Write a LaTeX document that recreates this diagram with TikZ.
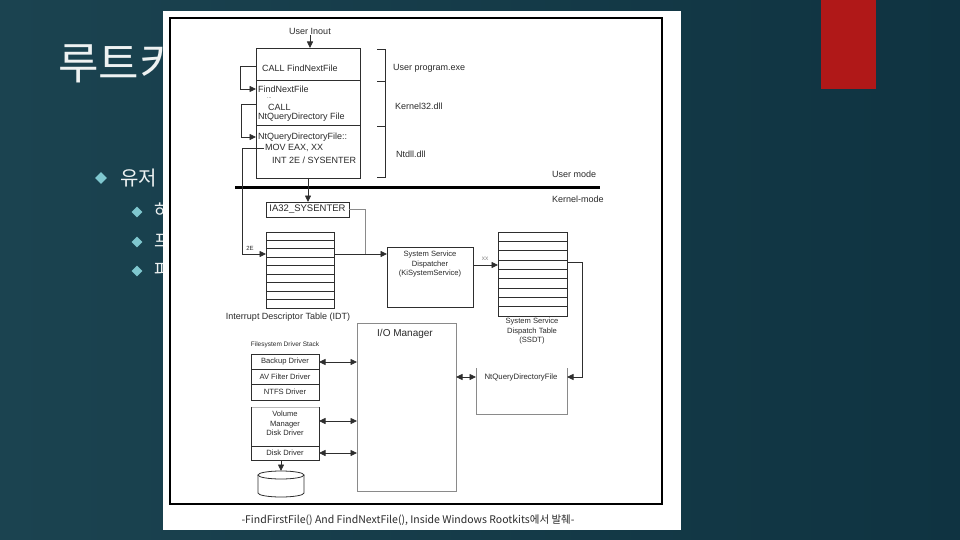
\documentclass[tikz,border=0pt]{standalone}
\usepackage{fontspec}
\setmainfont{Liberation Sans}
\newfontfamily\kr{Noto Sans CJK KR}
\usetikzlibrary{arrows.meta,shapes.geometric}
\definecolor{bgA}{HTML}{1B4350}
\definecolor{bgB}{HTML}{26595F}
\definecolor{bgC}{HTML}{0F3341}
\definecolor{tabred}{HTML}{B01818}
\definecolor{bul}{HTML}{7FC7CF}
\definecolor{ln}{HTML}{2E2E2E}
\definecolor{lgray}{HTML}{8A8A8A}
\definecolor{txt}{HTML}{2A2A2A}
\tikzset{
  box/.style={draw=ln, line width=.8pt, inner sep=0pt, outer sep=0pt, anchor=north west},
  gbox/.style={draw=lgray, line width=.8pt, inner sep=0pt, outer sep=0pt, anchor=north west},
  lbl/.style={text=txt, inner sep=1pt, font=\fontsize{9}{10}\selectfont},
  sml/.style={text=txt, inner sep=0pt, align=center, font=\fontsize{7.6}{9.4}\selectfont},
  arr/.style={draw=ln, line width=.8pt, -{Triangle[length=6.5pt,width=6pt]}},
  darr/.style={draw=ln, line width=.8pt, {Triangle[length=6.5pt,width=6pt]}-{Triangle[length=6.5pt,width=6pt]}},
  bulA/.style={diamond, fill=bul, inner sep=0pt, minimum size=12pt},
  bulB/.style={diamond, fill=bul, inner sep=0pt, minimum size=11pt},
  slide/.style={text=white!92!bgB, anchor=west, inner sep=0pt}
}
\begin{document}
\begin{tikzpicture}[x=1pt,y=-1pt]
\useasboundingbox (0,0) rectangle (960,540);
% slide background
\shade[left color=bgA, middle color=bgB, right color=bgC] (0,0) rectangle (960,540);
\fill[tabred] (821,0) rectangle (876,89);
% title and bullets (covered by the picture)
\node[slide, anchor=base west, font=\kr\fontsize{44}{44}\selectfont] (title) at (58,80) {루트키트};
\node[bulA] (b1) at (101,178) {};
\node[slide, font=\kr\fontsize{20}{20}\selectfont] (b1t) at (120,178) {유저};
\node[bulB] (b2) at (137,212) {};
\node[slide, font=\kr\fontsize{18}{18}\selectfont] (b2t) at (154,211) {하};
\node[bulB] (b3) at (137,242) {};
\node[slide, font=\kr\fontsize{18}{18}\selectfont] (b3t) at (154,241) {프};
\node[bulB] (b4) at (137,271) {};
\node[slide, font=\kr\fontsize{18}{18}\selectfont] (b4t) at (154,270) {파};
% picture panel
\fill[white] (163,11) rectangle (681,530);
\draw[black, line width=1.2pt] (170,18) rectangle (662,504);

% ---- user mode stack
\node[lbl] (uin) at (310,31) {User Inout};
\node[box, minimum width=104pt, minimum height=130pt] (main) at (256,48) {};
\draw[ln, line width=.8pt] (256,80) -- (360,80);
\draw[ln, line width=.8pt] (256,125) -- (360,125);
\draw[arr] (uin.south) -- (uin.south |- main.north);
\node[lbl, anchor=west] (t1) at (261,68) {CALL FindNextFile};
\node[lbl, anchor=west] (t2) at (257,89) {FindNextFile};
\node[lbl, anchor=west, font=\fontsize{5}{5}\selectfont] (t3) at (266,98) {...};
\node[lbl, anchor=west] (t4) at (267,107) {CALL};
\node[lbl, anchor=west] (t5) at (257,117) {NtQueryDirectory File};
\node[lbl, anchor=west] (t6) at (257,137) {NtQueryDirectoryFile::};
\node[lbl, anchor=west] (t7) at (264,148) {MOV EAX, XX};
\node[lbl, anchor=west] (t8) at (271,160) {INT 2E / SYSENTER};
\coordinate (l1) at (240,66);
\coordinate (l2) at (241,104);
\draw[arr] (l1 -| main.west) -- (l1) |- (t2.west -| main.west);
\draw[arr] (l2 -| main.west) -- (l2) |- (t6.west -| main.west);
% brackets
\draw[ln, line width=.8pt] (377,49) -- (385,49) -- (385,177) -- (377,177);
\draw[ln, line width=.8pt] (377,81) -- (385,81);
\draw[ln, line width=.8pt] (377,126) -- (385,126);
\node[lbl, anchor=west] (up) at (392,68) {User program.exe};
\node[lbl, anchor=west] (k32) at (394,106) {Kernel32.dll};
\node[lbl, anchor=west] (ntd) at (395,154) {Ntdll.dll};
\node[lbl, anchor=west] (um) at (551,174) {User mode};
\node[lbl, anchor=west] (km) at (551,199) {Kernel-mode};
\draw[black, line width=3pt] (235,187) -- (600,187);

% ---- kernel side
\node[box, minimum width=83pt, minimum height=15pt] (ia32) at (266,202) {};
\node[lbl, font=\fontsize{9.5}{10}\selectfont] at (ia32.center) {IA32\_SYSENTER};
\draw[arr] (main.south) -- (main.south |- ia32.north);

\node[box, minimum width=68pt, minimum height=76pt] (idt) at (266,232) {};
\foreach \k in {1,...,8} \draw[ln, line width=.8pt] (idt.north west) ++(0,\k*8.44) -- ++(68,0);
\node[lbl] (idtl) at (288,317) {Interrupt Descriptor Table (IDT)};

\coordinate (c2e) at (242,254);
\draw[arr] (t7.west) -| (c2e) -- (c2e -| idt.west);
\node[lbl, font=\fontsize{6}{6}\selectfont] (l2e) at (250,248) {2E};

\node[box, minimum width=86pt, minimum height=60pt] (disp) at (387,247) {};
\node[sml, anchor=north] (dispt) at (430,251) {System Service\\Dispatcher\\(KiSystemService)};
\draw[arr] (c2e -| idt.east) -- (c2e -| disp.west);
\coordinate (join) at (365,254);
\draw[lgray, line width=.8pt] (ia32.east) -| (join);

\node[box, minimum width=69pt, minimum height=84pt] (ssdt) at (498,232) {};
\foreach \k in {1,...,8} \draw[ln, line width=.8pt] (ssdt.north west) ++(0,\k*9.33) -- ++(69,0);
\coordinate (cxx) at (473,265);
\draw[arr] (cxx) -- (cxx -| ssdt.west);
\node[lbl, font=\fontsize{6.5}{6.5}\selectfont, text=lgray] (lxx) at (485,259) {xx};
\node[sml, anchor=north] (ssdtl) at (532,318) {System Service\\Dispatch Table\\(SSDT)};

% NtQueryDirectoryFile box (open top)
\node[inner sep=0pt, outer sep=0pt, minimum width=91pt, minimum height=46pt, anchor=north west] (ntq) at (476,368) {};
\draw[lgray, line width=.8pt] (ntq.north west) -- (ntq.south west) -- (ntq.south east) -- (ntq.north east);
\node[sml, font=\fontsize{7.8}{9}\selectfont] (ntqt) at (521,377) {NtQueryDirectoryFile};
\coordinate (cs) at (582,262);
\draw[ln, line width=.8pt] (cs -| ssdt.east) -- (cs);
\draw[arr] (cs) |- (ntqt -| ntq.east);

% I/O manager
\node[gbox, minimum width=99pt, minimum height=168pt] (io) at (357,323) {};
\node[lbl, font=\fontsize{10}{11}\selectfont] (iot) at (405,334) {I/O Manager};
\draw[darr] (ntqt -| io.east) -- (ntqt -| ntq.west);

% driver stack
\node[sml, font=\fontsize{6.5}{7}\selectfont] (fsl) at (285,345) {Filesystem Driver Stack};
\node[box, minimum width=68pt, minimum height=15pt] (bk) at (251,354) {};
\node[box, minimum width=68pt, minimum height=15pt] (av) at (251,369) {};
\node[box, minimum width=68pt, minimum height=16pt] (ntfs) at (251,384) {};
\node[sml] at (bk.center) {Backup Driver};
\node[sml] at (av.center) {AV Filter Driver};
\node[sml] at (ntfs.center) {NTFS Driver};
\node[inner sep=0pt, outer sep=0pt, minimum width=68pt, minimum height=39pt, anchor=north west] (vol) at (251,407) {};
\draw[lgray!60, line width=.5pt] (vol.north west) -- (vol.north east);
\draw[ln, line width=.8pt] (vol.north west) -- (vol.south west);
\draw[ln, line width=.8pt] (vol.north east) -- (vol.south east);
\node[sml, anchor=north] (volt) at (285,411) {Volume\\Manager\\Disk Driver};
\node[box, minimum width=68pt, minimum height=14pt] (disk) at (251,446) {};
\node[sml] at (disk.center) {Disk Driver};
\coordinate (a1) at (319,362);
\coordinate (a2) at (319,421);
\draw[darr] (a1) -- (a1 -| io.west);
\draw[darr] (a2) -- (a2 -| io.west);
\draw[darr] (disk.east) -- (disk.east -| io.west);
% disk cylinder
\node[inner sep=0pt, outer sep=0pt, minimum width=46pt, minimum height=26pt] (cyl) at (281,484) {};
\draw[ln, line width=.8pt] (281,475) ellipse [x radius=23, y radius=4];
\draw[ln, line width=.8pt] (258,475) -- (258,493) arc[start angle=180, end angle=0, x radius=23, y radius=4] -- (304,475);
\draw[arr] (cyl.north |- disk.south) -- (cyl.north);

% caption
\node[text=txt, font=\kr\fontsize{10.5}{12}\selectfont] (cap) at (408,520) {-FindFirstFile() And FindNextFile(), Inside Windows Rootkits에서 발췌-};
\end{tikzpicture}
\end{document}
